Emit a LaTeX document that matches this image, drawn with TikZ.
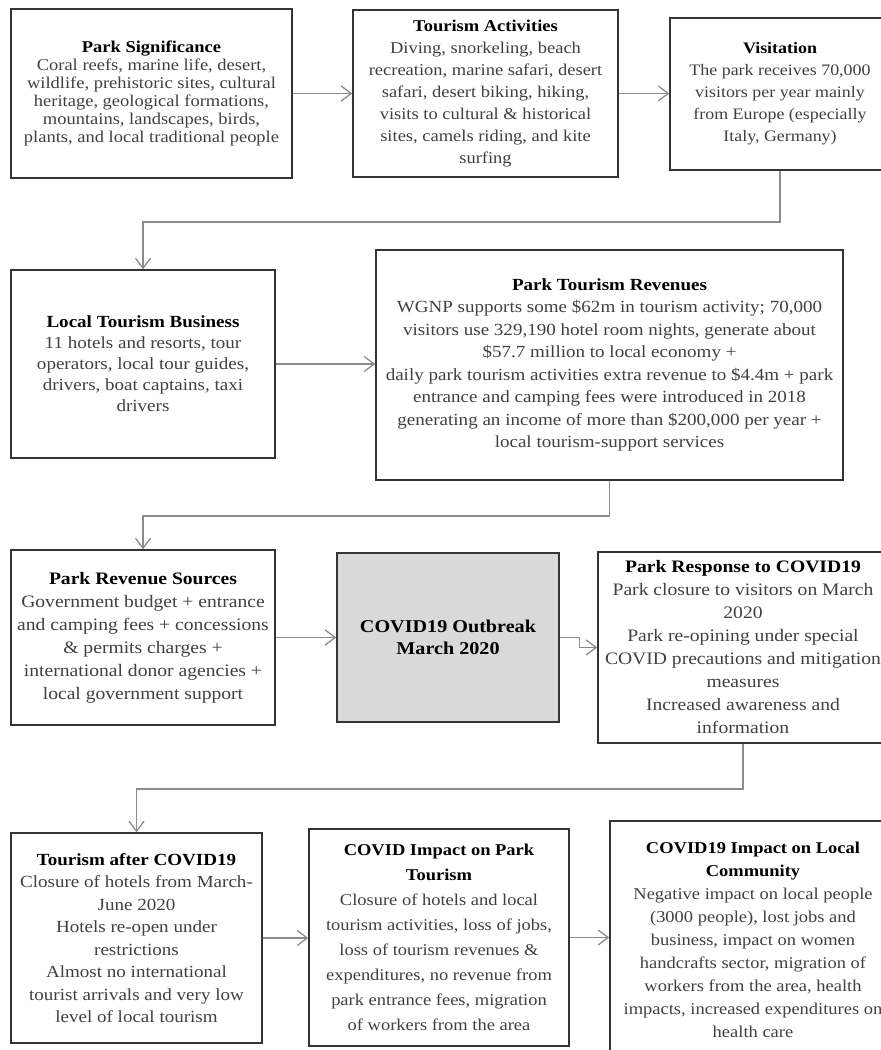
\documentclass[tikz,border=0pt]{standalone}
\usepackage{fontspec}
\setmainfont[FakeStretch=1.12]{Liberation Serif}
\usetikzlibrary{arrows.meta}
\newcommand{\boxfont}[2]{\fontsize{#1}{#2}\selectfont}
\newcommand{\ttl}[1]{{\color{black}\bfseries #1}}
\tikzset{
  card/.style={rectangle,draw=black!80,line width=1.4pt,fill=white,align=center,inner sep=2pt,text=black!75},
  hot/.style={card,fill=black!15,text=black},
  link/.style={-{Straight Barb[length=10pt,width=15pt]},line width=1.3pt,black!45},
}

\begin{document}
\begin{tikzpicture}[x=1pt,y=-1pt]
  \useasboundingbox (0,0) rectangle (881,1050);
  % row 1
  \node[card,minimum width=281pt,minimum height=169pt,font=\boxfont{16.5}{18}](sig) at (151.5,93.5){\ttl{Park Significance}\\Coral reefs, marine life, desert,\\wildlife, prehistoric sites, cultural\\heritage, geological formations,\\mountains, landscapes, birds,\\plants, and local traditional people};
  \node[card,minimum width=265pt,minimum height=167pt,font=\boxfont{16.5}{22}](act) at (485.5,93.5){\ttl{Tourism Activities}\\Diving, snorkeling, beach\\recreation, marine safari, desert\\safari, desert biking, hiking,\\visits to cultural \& historical\\sites, camels riding, and kite\\surfing};
  \node[card,minimum width=220pt,minimum height=152pt,font=\boxfont{16}{22}](vis) at (780,94){\ttl{Visitation}\\The park receives 70,000\\visitors per year mainly\\from Europe (especially\\Italy, Germany)};
  % row 2
  \node[card,minimum width=264pt,minimum height=188pt,font=\boxfont{17}{21}](biz) at (143,364){\ttl{Local Tourism Business}\\11 hotels and resorts, tour\\operators, local tour guides,\\drivers, boat captains, taxi\\drivers};
  \node[card,minimum width=467pt,minimum height=230pt,font=\boxfont{17}{22.5}](rev) at (609.5,365){\ttl{Park Tourism Revenues}\\WGNP supports some \$62m in tourism activity; 70,000\\visitors use 329,190 hotel room nights, generate about\\\$57.7 million to local economy +\\daily park tourism activities extra revenue to \$4.4m + park\\entrance and camping fees were introduced in 2018\\generating an income of more than \$200,000 per year +\\local tourism-support services};
  % row 3
  \node[card,minimum width=264pt,minimum height=175pt,font=\boxfont{17.5}{23}](src) at (143,637.5){\ttl{Park Revenue Sources}\\Government budget + entrance\\and camping fees + concessions\\\& permits charges +\\international donor agencies +\\local government support};
  \node[hot,minimum width=222pt,minimum height=169pt,font=\boxfont{18}{22}\bfseries](out) at (448,637.5){COVID19 Outbreak\\March 2020};
  \node[card,minimum width=290pt,minimum height=191pt,font=\boxfont{17.5}{23}](resp) at (743,647.5){\ttl{Park Response to COVID19}\\Park closure to visitors on March\\2020\\Park re-opining under special\\COVID precautions and mitigation\\measures\\Increased awareness and\\information};
  % row 4
  \node[card,minimum width=251pt,minimum height=210pt,font=\boxfont{17}{22.5}](after) at (136.5,938){\ttl{Tourism after COVID19}\\Closure of hotels from March-\\June 2020\\Hotels re-open under\\restrictions\\Almost no international\\tourist arrivals and very low\\level of local tourism};
  \node[card,minimum width=260pt,minimum height=217pt,font=\boxfont{16.5}{25}](imp) at (439,937.5){\ttl{COVID Impact on Park}\\\ttl{Tourism}\\Closure of hotels and local\\tourism activities, loss of jobs,\\loss of tourism revenues \&\\expenditures, no revenue from\\park entrance fees, migration\\of workers from the area};
  \node[card,minimum width=286pt,minimum height=238pt,font=\boxfont{16.5}{23}](com) at (753,940){\ttl{COVID19 Impact on Local}\\\ttl{Community}\\Negative impact on local people\\(3000 people), lost jobs and\\business, impact on women\\handcrafts sector, migration of\\workers from the area, health\\impacts, increased expenditures on\\health care};
  % bends of the long connectors
  \coordinate (k1) at (0,222);
  \coordinate (k2) at (0,516);
  \coordinate (k3) at (0,789);
  \draw[link] (sig) -- (act);
  \draw[link] (act.east) -- (act.east -| vis.west);
  \draw[link] (vis.south) -- (vis.south |- k1) -| (biz.north);
  \draw[link] (biz.east) -- (biz.east -| rev.west);
  \draw[link] (rev.south) -- (rev.south |- k2) -| (src.north);
  \draw[link] (src) -- (out);
  \draw[link] (out.east) -- ++(20,0) |- (resp.west);
  \draw[link] (resp.south) -- (resp.south |- k3) -| (after.north);
  \draw[link] (after.east) -- (after.east -| imp.west);
  \draw[link] (imp.east) -- (imp.east -| com.west);
\end{tikzpicture}
\end{document}
